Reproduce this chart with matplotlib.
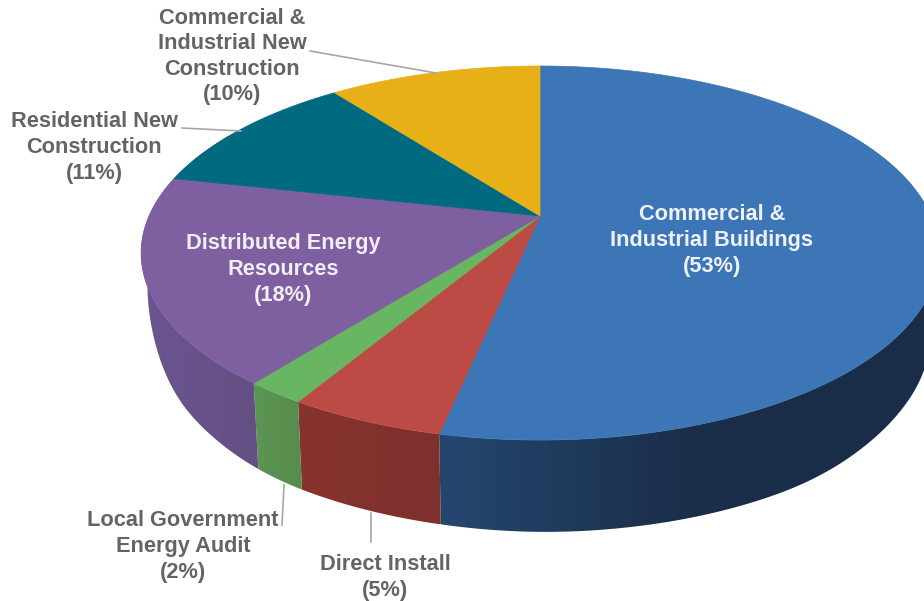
import numpy as np
import matplotlib
matplotlib.use("Agg")
import matplotlib.pyplot as plt
from matplotlib.colors import LinearSegmentedColormap
from matplotlib.patches import Polygon

# === Data ===
categories = [
    "Commercial &\nIndustrial Buildings\n(53%)",
    "Direct Install\n(5%)",
    "Local Government\nEnergy Audit\n(2%)",
    "Distributed Energy\nResources\n(18%)",
    "Residential New\nConstruction\n(11%)",
    "Commercial &\nIndustrial New\nConstruction\n(10%)",
]
# the labels are these values rounded
values = [52.8, 5.2, 2.0, 17.7, 11.0, 10.3]
top_colors = ["#3d76b7", "#bc4b46", "#68b562", "#7e5f9f", "#006a80", "#e8b017"]
wall_left = ["#25476f", "#87332f", "#5c9653", "#6b5590", "#004a5a", "#a27b10"]
wall_right = ["#1a2d48", "#7e302c", "#568c4d", "#644f84", "#004a5a", "#a27b10"]

# === Pie geometry (pixels of the 924x601 picture) ===
CX, CY = 540, 216
A, B = 391, 179.7
K = 0.198
SHRINK = 0.984  # lower rim is a bit narrower than the top one
BLUE_FADE = 260
GREY = "#636466"
LINE = "#a6a6a6"
# wall height around the rim, the picture is not symmetric here
RIM_DEG = [40, 60, 90, 114, 143, 180, 217, 233, 240, 246, 258, 270, 283, 300]
RIM_H = [0, 20, 60, 80, 92, 92, 87, 77, 70, 56, 32, 12, 0, 0]


def wall_height(theta):
    """Wall height at a rim angle, lightly smoothed."""
    deg = np.degrees(theta)
    return np.mean([np.interp(deg + d, RIM_DEG, RIM_H) for d in np.linspace(-6, 6, 13)], axis=0)


def project(theta, lower=False):
    """Perspective view of a rim point, theta clockwise from the top."""
    u = np.sin(theta)
    v = np.cos(theta)
    w = 1 + K * v
    x = A * u / w
    y = CY - B * v / w
    if lower:
        return CX + SHRINK * x, y + wall_height(theta)
    return CX + x, y


fig = plt.figure(figsize=(9.24, 6.01), dpi=100)
ax = fig.add_axes([0, 0, 1, 1])
ax.axis("off")

edges = np.cumsum([0] + values) / sum(values) * 2 * np.pi

# === Side walls (only the front part shows) ===
for i in range(len(values)):
    start = max(edges[i], np.radians(60))
    end = min(edges[i + 1], np.radians(300))
    if end <= start:
        continue
    th = np.linspace(start, end, 200)
    x_top, y_top = project(th)
    x_bot, y_bot = project(th, lower=True)
    poly = np.column_stack([np.r_[x_top, x_bot[::-1]], np.r_[y_top, y_bot[::-1]]])
    patch = Polygon(poly, closed=True, facecolor="none", edgecolor="none")
    ax.add_patch(patch)
    cmap = LinearSegmentedColormap.from_list("wall", [wall_left[i], wall_right[i]])
    left, right = poly[:, 0].min(), poly[:, 0].max()
    xs = np.linspace(left, right, 256)
    span = BLUE_FADE if i == 0 else right - left
    grad = np.clip((xs - left) / span, 0, 1).reshape(1, -1)
    im = ax.imshow(grad, cmap=cmap, vmin=0, vmax=1, aspect="auto", zorder=1,
                   extent=[left, right, poly[:, 1].max(), poly[:, 1].min()])
    im.set_clip_path(patch)

ax.set_xlim(0, 924)
ax.set_ylim(601, 0)

# === Top face ===
for i in range(len(values)):
    th = np.linspace(edges[i], edges[i + 1], 200)
    x_top, y_top = project(th)
    ax.fill(np.r_[CX, x_top], np.r_[CY, y_top], color=top_colors[i], lw=0.5, zorder=2)

# === Leader lines ===
leaders = [
    ([310, 436], [51, 73]),
    ([182, 241], [128, 131]),
    ([284, 282], [485, 525]),
    ([371, 371], [513, 542]),
]
for lx, ly in leaders:
    ax.plot(lx, ly, color=LINE, lw=1.2, zorder=3)

# === Labels ===
label_pos = [(712, 240.5), (385, 577.5), (183, 546.5), (283, 269.5), (94, 147.5), (232, 56.5)]
label_col = ["#eef2f8", GREY, GREY, "#f2edf6", GREY, GREY]
for text, (tx, ty), col in zip(categories, label_pos, label_col):
    ax.text(tx, ty, text, ha="center", va="center", color=col, fontsize=15.7,
            family="Liberation Sans", fontweight="bold", linespacing=1.29, zorder=4)

fig.savefig("out.png", dpi=100)
